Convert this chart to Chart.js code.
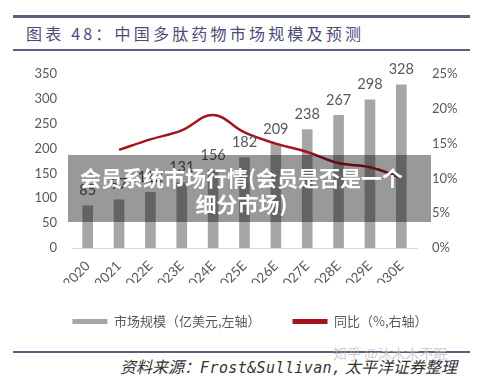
<!DOCTYPE html>
<html>
<head>
<meta charset="utf-8">
<script src="https://cdn.jsdelivr.net/npm/chart.js@4"></script>
<style>
  body { margin: 0; width: 500px; height: 377px; background: #fff; position: relative; overflow: hidden; font-family: 'Noto Sans CJK SC', sans-serif; }
  .rule { position: absolute; left: 13px; width: 457px; background: #5d5d82; }
  #title { position: absolute; left: 26px; top: 21px; font-size: 16px; letter-spacing: 3.2px; color: #4b4b78; white-space: nowrap; }
  #chartbox { position: absolute; left: 0; top: 55px; width: 500px; height: 285px; }
  #banner { position: absolute; left: 68px; top: 155px; width: 347px; height: 58px; padding: 9px 16px 0 0; background: rgba(0,0,0,0.4);
            color: #fff; font-weight: bold; font-size: 21px; line-height: 26px; text-align: center; white-space: nowrap; }
  #source { position: absolute; left: 120px; top: 354px; font-size: 16px; font-style: italic; color: #333; white-space: nowrap; }
  #source .en { font-family: 'DejaVu Sans Mono', monospace; font-size: 15px; letter-spacing: 0.4px; }
  #mark { position: absolute; left: 333px; top: 343px; font-size: 14px; color: rgba(190,190,190,0.75); white-space: nowrap; }
</style>
</head>
<body>
<div class="rule" style="top:15px;height:3px"></div>
<div id="title">图表 48：中国多肽药物市场规模及预测</div>
<div class="rule" style="top:49px;height:2px"></div>
<div id="chartbox"><canvas id="chart-area"></canvas></div>
<div id="banner">会员系统市场行情(会员是否是一个<br>细分市场)</div>
<div class="rule" style="top:351px;height:1.5px"></div>
<div id="mark">知乎 @沐木木不眠</div>
<div id="source">资料来源：<span class="en">Frost&amp;Sullivan,</span> 太平洋证券整理</div>

<script>
const years = ['2020', '2021', '2022E', '2023E', '2024E', '2025E', '2026E', '2027E', '2028E', '2029E', '2030E'];
const marketSize = [85, 97, 112, 131, 156, 182, 209, 238, 267, 298, 328];   // 亿美元
const growth = [null, 14.1, 15.6, 16.9, 19.1, 16.6, 15.0, 13.8, 12.2, 11.6, 10.1]; // %
const sizeLabel = '市场规模（亿美元,左轴）';
const growthLabel = '同比（%,右轴）';

const numFont = "Lato, 'Noto Sans CJK SC', sans-serif";

// values above the bars
const barLabels = {
    id: 'barLabels',
    afterDatasetsDraw(chart) {
        const ctx = chart.ctx;
        const meta = chart.getDatasetMeta(0);
        ctx.save();
        ctx.font = '14.5px ' + numFont;
        ctx.fillStyle = '#595959';
        ctx.textAlign = 'center';
        ctx.textBaseline = 'bottom';
        meta.data.forEach((bar, i) => {
            ctx.fillText(marketSize[i], bar.x, bar.y - 8);
        });
        ctx.restore();
    }
};

function createChart() {
    const ctx = document.getElementById('chart-area').getContext('2d');
    new Chart(ctx, {
        type: 'bar',
        data: {
            labels: years,
            datasets: [{
                label: sizeLabel,
                data: marketSize,
                backgroundColor: '#a6a6a6',
                barThickness: 10,
                yAxisID: 'y',
                order: 1
            }, {
                type: 'line',
                label: growthLabel,
                data: growth,
                borderColor: '#a3141d',
                backgroundColor: '#a3141d',
                borderWidth: 2.5,
                tension: 0.4,
                pointRadius: 0,
                yAxisID: 'y1',
                order: 0
            }]
        },
        options: {
            responsive: true,
            maintainAspectRatio: false,
            animation: false,
            layout: { padding: { top: 19, bottom: 2 } },
            plugins: {
                tooltip: { enabled: false },
                legend: {
                    position: 'bottom',
                    labels: {
                        boxWidth: 35,
                        boxHeight: 5,
                        padding: 32,
                        color: '#595959',
                        font: { size: 13, family: "'Noto Sans CJK SC', sans-serif" },
                        sort: (a, b) => a.datasetIndex - b.datasetIndex,
                        generateLabels(chart) {
                            const items = Chart.defaults.plugins.legend.labels.generateLabels(chart);
                            items.forEach(it => { it.lineWidth = 0; });
                            return items;
                        }
                    }
                }
            },
            scales: {
                x: {
                    grid: { display: false },
                    border: { color: '#d9d9d9' },
                    ticks: {
                        color: '#595959',
                        font: { size: 13.5, family: numFont },
                        minRotation: 45,
                        maxRotation: 45,
                        padding: 2
                    },
                    afterFit(scale) { scale.height = 35; }
                },
                y: {
                    position: 'left',
                    min: 0,
                    max: 350,
                    grid: { display: false },
                    border: { display: false },
                    ticks: {
                        stepSize: 50,
                        color: '#595959',
                        font: { size: 13, family: numFont },
                        padding: 7
                    },
                    afterFit(scale) { scale.width = 72; }
                },
                y1: {
                    position: 'right',
                    min: 0,
                    max: 25,
                    grid: { display: false },
                    border: { display: false },
                    ticks: {
                        stepSize: 5,
                        color: '#595959',
                        font: { size: 13, family: numFont },
                        padding: 7,
                        callback: (v) => v + '%'
                    },
                    afterFit(scale) { scale.width = 83; }
                }
            }
        },
        plugins: [barLabels]
    });
}

createChart();
</script>
</body>
</html>
